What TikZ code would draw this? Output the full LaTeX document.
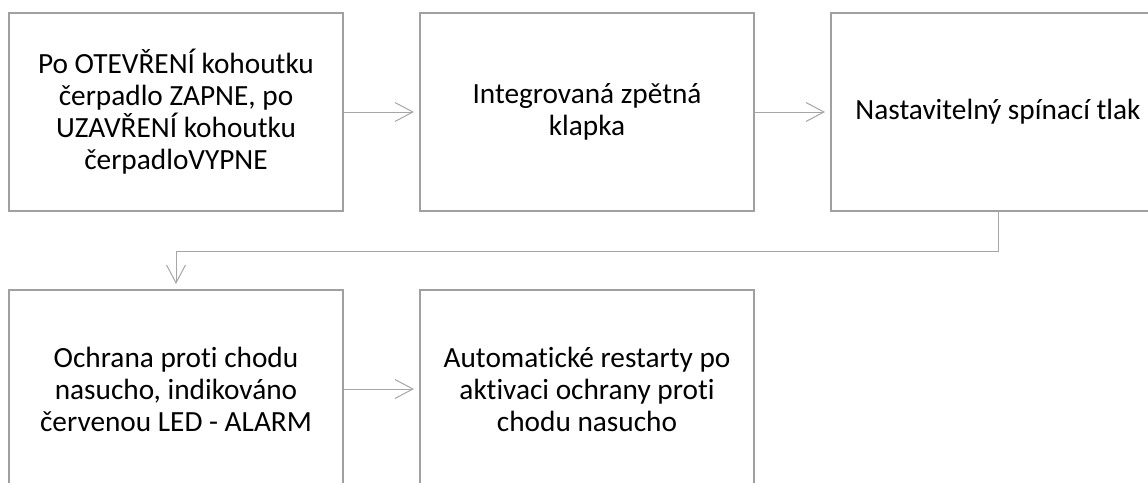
\documentclass[tikz,border=0pt]{standalone}
\usepackage{fontspec}
\setmainfont{Carlito}[Ligatures=NoCommon]
\usepackage{tikz}
\usetikzlibrary{positioning, arrows.meta}
\definecolor{boxgray}{HTML}{A0A0A0}
\definecolor{linegray}{HTML}{A6A6A6}

\begin{document}
\begin{tikzpicture}[
    node distance=77pt and 75pt,
    every node/.style={draw=boxgray, line width=2pt, rectangle, minimum width=334pt, minimum height=198pt, inner sep=0pt, align=center, font=\fontsize{29.3pt}{32pt}\selectfont},
    arrow/.style={-{Straight Barb[length=18pt, width=19pt]}, line width=1pt, draw=linegray, shorten >=5pt}
]
\useasboundingbox (0,0) rectangle (1148pt,-482pt);
\node (1) at (176pt,-112pt) {Po OTEVŘENÍ kohoutku\\ čerpadlo ZAPNE, po\\ UZAVŘENÍ kohoutku\\ čerpadloVYPNE};
\node[right=of 1] (2) {Integrovaná zpětná\\ klapka};
\node[right=of 2] (3) {Nastavitelný spínací tlak};
\node[below=of 1] (4) {Ochrana proti chodu\\ nasucho, indikováno\\ červenou LED - ALARM};
\node[right=of 4] (5) {Automatické restarty po\\ aktivaci ochrany proti\\ chodu nasucho};

\draw[arrow] (1) -- (2);
\draw[arrow] (2) -- (3);
\draw[arrow] (3.south) -- ++(0,-39pt) -| (4.north);
\draw[arrow] (4) -- (5);
\end{tikzpicture}
\end{document}
